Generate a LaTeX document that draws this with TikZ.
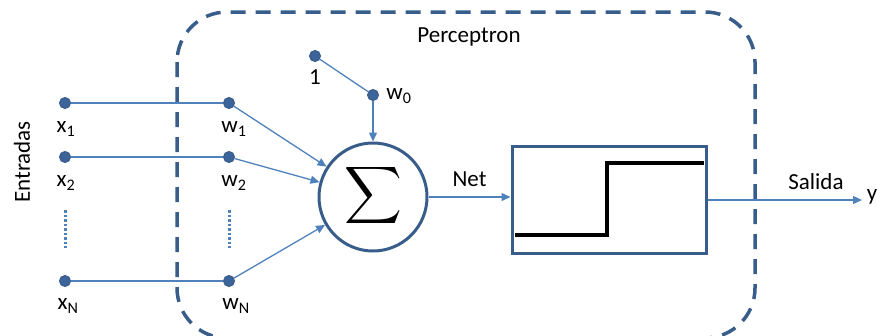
\documentclass[tikz,border=0pt]{standalone}
\usepackage{fontspec}
\setmainfont{Carlito}
\usetikzlibrary{arrows.meta}
\definecolor{lineblue}{RGB}{79,129,189}
\definecolor{darkblue}{RGB}{56,93,138}
\definecolor{dotblue}{RGB}{60,100,155}
\tikzset{
  dotnode/.style={circle,fill=dotblue,draw=darkblue,line width=1pt,inner sep=0pt,minimum size=11pt},
  conn/.style={draw=lineblue,line width=1.3pt},
  arr/.style={conn,-{Triangle[length=9pt,width=8pt]}},
  lbl/.style={font=\fontsize{23}{26}\selectfont,inner sep=0pt},
  dots/.style={draw=lineblue,line width=3pt,dash pattern=on 2.5pt off 2pt}
}
\begin{document}
\begin{tikzpicture}[x=1pt,y=-1pt]
\useasboundingbox (0,0) rectangle (877,335);
% perceptron border
\draw[darkblue,line width=3.5pt,dash pattern=on 15pt off 10pt,rounded corners=50pt] (177,12) rectangle (755,338);
\node[lbl] (ptitle) at (469,37) {Perceptron};
\node[lbl,rotate=90] (entradas) at (22,162) {Entradas};
% input nodes
\node[dotnode] (x1) at (65,103) {};
\node[dotnode] (x2) at (65,157) {};
\node[dotnode] (xN) at (65,281) {};
\node[dotnode] (w1) at (229,103) {};
\node[dotnode] (w2) at (229,157) {};
\node[dotnode] (wN) at (229,281) {};
\node[dotnode] (one) at (315,56) {};
\node[dotnode] (w0) at (373,95) {};
\node[lbl] (lx1) at (66,129) {x\textsubscript{1}};
\node[lbl] (lx2) at (66,183) {x\textsubscript{2}};
\node[lbl] (lxN) at (68,306) {x\textsubscript{N}};
\node[lbl] (lw1) at (234,129) {w\textsubscript{1}};
\node[lbl] (lw2) at (234,183) {w\textsubscript{2}};
\node[lbl] (lwN) at (236,306) {w\textsubscript{N}};
\node[lbl] (lone) at (315,77) {1};
\node[lbl] (lw0) at (399,96) {w\textsubscript{0}};
% vertical dots
\coordinate (dx1) at (65,210); \coordinate (dx2) at (65,248);
\coordinate (dw1) at (229,210); \coordinate (dw2) at (229,248);
\draw[dots] (dx1) -- (dx2);
\draw[dots] (dw1) -- (dw2);
% summation
\node[circle,draw=darkblue,line width=3pt,minimum size=108pt,inner sep=0pt] (sum) at (373,197) {};
\node[inner sep=0pt,scale=4] (sigma) at (373,195) {$\displaystyle\sum$};
% step box
\node[draw=darkblue,line width=3pt,minimum width=194pt,minimum height=107pt,inner sep=0pt] (box) at (609,199.5) {};
\coordinate (s1) at (515,235);
\coordinate (s2) at (607,235);
\coordinate (s3) at (607,163);
\coordinate (s4) at (704,163);
\draw[black,line width=4.5pt] (s1) -- (s2) -- (s3) -- (s4);
% connectors
\draw[conn] (x1) -- (w1);
\draw[conn] (x2) -- (w2);
\draw[conn] (xN) -- (wN);
\draw[conn] (one) -- (w0);
\draw[arr] (w0) -- (sum);
\draw[arr] (w1) -- (sum);
\draw[arr] (w2) -- (sum);
\draw[arr] (wN) -- (sum);
\draw[arr] (sum.east) -- (sum.east -| box.west) node[lbl,midway,above=10pt] (net) {Net};
\coordinate (yend) at (862,200);
\draw[arr] (box.east |- yend) -- (yend);
\node[lbl] (salida) at (816,182) {Salida};
\node[lbl] (y) at (872,197) {y};
\end{tikzpicture}
\end{document}
